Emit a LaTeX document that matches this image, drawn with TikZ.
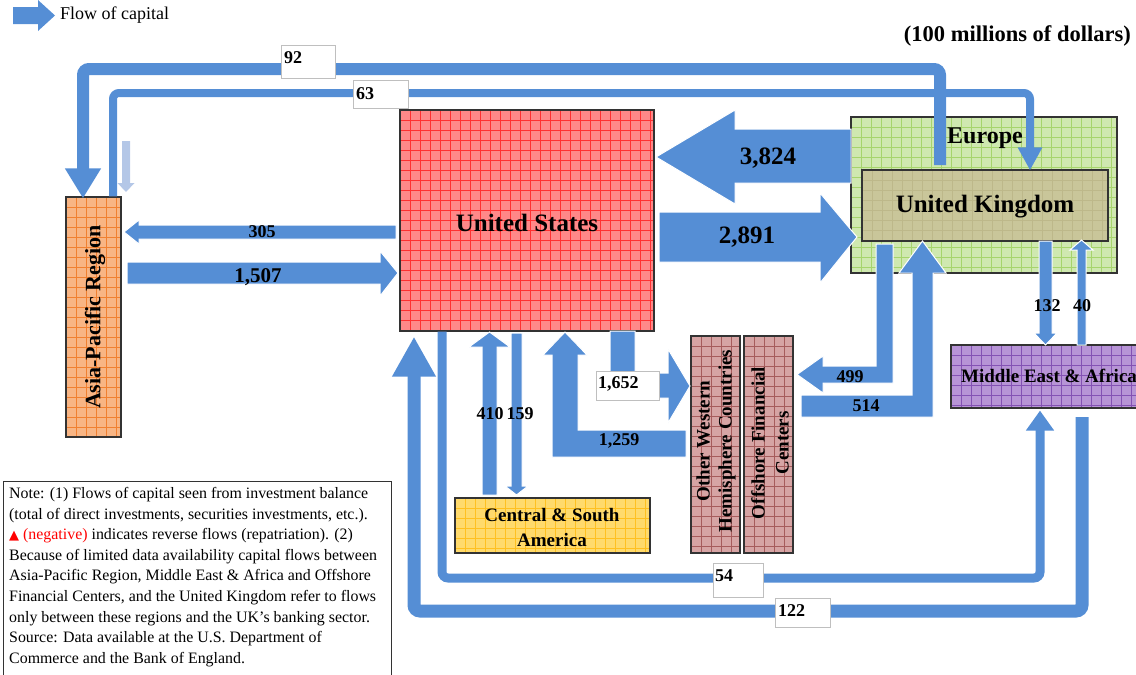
\documentclass[tikz,border=0pt]{standalone}
\usepackage{fontspec}
\setmainfont{Liberation Serif}
\newfontfamily\symfont{DejaVu Sans}
\usetikzlibrary{arrows.meta,calc}

\definecolor{flow}{HTML}{558ED5}
\definecolor{flowpale}{HTML}{B4C7E7}
\definecolor{usfill}{HTML}{FF8888}
\definecolor{usgrid}{HTML}{FF3030}
\definecolor{apfill}{HTML}{F8B584}
\definecolor{apgrid}{HTML}{F08030}
\definecolor{eufill}{HTML}{CFE8B0}
\definecolor{eugrid}{HTML}{A6D46C}
\definecolor{ukfill}{HTML}{C9C69A}
\definecolor{ukgrid}{HTML}{BDB88A}
\definecolor{mefill}{HTML}{B794D6}
\definecolor{megrid}{HTML}{8452B4}
\definecolor{owfill}{HTML}{D6A4A4}
\definecolor{owgrid}{HTML}{A65C5C}
\definecolor{csfill}{HTML}{FFDA6C}
\definecolor{csgrid}{HTML}{FFC020}

\newcommand\sz[1]{\fontsize{#1}{#1}\selectfont}

\begin{document}
\begin{tikzpicture}[x=1pt,y=-1pt,
  flowfill/.style={fill=flow, draw=white, line width=1pt, line join=miter},
  flowline/.style={draw=flow, rounded corners=6pt, line cap=butt},
  region/.style n args={2}{draw=black!80, line width=1.2pt, fill=#1, inner sep=0pt,
    path picture={
      \foreach \k in {10,20,...,300} {
        \draw[#2, line width=0.6pt] ($(path picture bounding box.north west)+(\k,0)$) -- ++(0,300);
        \draw[#2, line width=0.6pt] ($(path picture bounding box.north west)+(0,\k)$) -- ++(300,0);
      }}},
  valbox/.style={draw=black!25, fill=white, line width=1pt, inner sep=0pt},
  num/.style={font=\bfseries\sz{18}},
  bignum/.style={font=\bfseries\sz{25}},
]
\useasboundingbox (0,0) rectangle (1136,675);

% ---- regions ----
\node[region={usfill}{usgrid}, minimum width=254pt, minimum height=221pt] (us) at (527,220.5) {};
\node[region={apfill}{apgrid}, minimum width=55pt, minimum height=240pt] (ap) at (93.5,317) {};
\node[region={eufill}{eugrid}, minimum width=266pt, minimum height=156pt] (eu) at (984,195) {};
\node[region={ukfill}{ukgrid}, minimum width=246pt, minimum height=71pt] (uk) at (985,205.5) {};
\node[region={mefill}{megrid}, minimum width=195pt, minimum height=63pt] (me) at (1048.5,376.5) {};
\node[region={owfill}{owgrid}, minimum width=49pt, minimum height=217pt] (ow) at (715.5,444.5) {};
\node[region={owfill}{owgrid}, minimum width=49pt, minimum height=217pt] (of) at (768.5,444.5) {};
\node[region={csfill}{csgrid}, minimum width=195pt, minimum height=55pt] (cs) at (552.5,525.5) {};

\node[font=\bfseries\sz{25}] (ust) at (527,223) {United States};
\node[font=\bfseries\sz{22}, rotate=90] (apt) at (95,317) {Asia-Pacific Region};
\node[font=\bfseries\sz{24}] (eut) at (985,138) {Europe};
\node[font=\bfseries\sz{25}] (ukt) at (985,207) {United Kingdom};
\node[font=\bfseries\sz{19}, anchor=west, inner sep=0pt] (met) at (961,376) {Middle East \& Africa};
\node[font=\bfseries\fontsize{19}{22}\selectfont, rotate=90, align=center] (owt) at (716,441)
  {Other Western\\Hemisphere Countries};
\node[font=\bfseries\fontsize{19}{24}\selectfont, rotate=90, align=center] (oft) at (770,443)
  {Offshore Financial\\Centers};
\node[font=\bfseries\fontsize{19}{25}\selectfont, align=center] (cst) at (552,527)
  {Central \& South\\America};

% ---- legend and unit ----
\fill[flowfill, draw=none] (13,7) -- (38,7) -- (38,0) -- (55,15.5) -- (38,31) -- (38,24) -- (13,24) -- cycle;
\node[font=\sz{18}, anchor=west, inner sep=0pt] (legt) at (60,15) {Flow of capital};
\node[font=\bfseries\sz{22.5}, anchor=east, inner sep=0pt] (unit) at (1131,36) {(100 millions of dollars)};

% ---- block arrows ----
% UK -> US  (3,824)
\fill[flowfill] (851,129) -- (735,129) -- (735,110) -- (656,157) -- (735,204) -- (735,183) -- (851,183) -- cycle;
% US -> UK  (2,891)
\fill[flowfill] (659,212) -- (820,212) -- (820,193) -- (857,237) -- (820,283) -- (820,262) -- (659,262) -- cycle;
% US -> Asia-Pacific (305)
\fill[flowfill] (396,225) -- (139,225) -- (139,220) -- (124,232) -- (139,244) -- (139,239) -- (396,239) -- cycle;
% Asia-Pacific -> US (1,507)
\fill[flowfill] (127,262) -- (380,262) -- (380,251) -- (398,273) -- (380,296) -- (380,284) -- (127,284) -- cycle;
% Central & South America -> US (410)
\fill[flowfill] (482,495) -- (482,347) -- (469,347) -- (489.5,332) -- (510,347) -- (497,347) -- (497,495) -- cycle;
% US -> Central & South America (159)
\fill[flowfill] (511,333) -- (522,333) -- (522,486) -- (528,486) -- (516.5,495) -- (505,486) -- (511,486) -- cycle;
% Other Western -> US (1,259)
\fill[flowfill] (686,430) -- (578,430) -- (578,355) -- (587,355) -- (565,332) -- (543,355) -- (552,355) -- (552,457) -- (686,457) -- cycle;
% US -> Other Western (1,652)
\fill[flowfill] (610,331) -- (635,331) -- (635,373) -- (668,373) -- (668,349) -- (690,386) -- (668,423) -- (668,398) -- (610,398) -- cycle;
% UK -> Offshore (499)
\fill[flowfill] (876,244) -- (893,244) -- (893,383) -- (823,383) -- (823,393) -- (797,374.5) -- (823,356) -- (823,366) -- (876,366) -- cycle;
% Offshore -> UK (514)
\fill[flowfill] (801,395) -- (912,395) -- (912,273) -- (899,273) -- (922.5,241) -- (946,273) -- (933,273) -- (933,417) -- (801,417) -- cycle;
% UK -> Middle East & Africa (132)
\fill[flowfill] (1039,241) -- (1052,241) -- (1052,333) -- (1057,333) -- (1045.5,345) -- (1034,333) -- (1039,333) -- cycle;
% Middle East & Africa -> UK (40)
\fill[flowfill] (1077,345) -- (1077,250) -- (1070,250) -- (1081.5,240) -- (1093,250) -- (1086,250) -- (1086,345) -- cycle;
% faint arrow above Asia-Pacific
\fill[flowpale] (122,141) -- (130,141) -- (130,183) -- (134.5,183) -- (126,192) -- (117.5,183) -- (122,183) -- cycle;

% ---- thin connectors ----
\coordinate (s92) at (940,165);
\coordinate (s122) at (1082,417);
\draw[flowline, line width=12pt, -{Triangle[width=34pt,length=30pt]}]
  (s92) -- (940,69) -- (83,69) -- ($(ap.north -| 83,0)+(0,2)$);
\draw[flowline, line width=8pt, -{Triangle[width=23pt,length=23pt]}]
  (ap.north -| 113,0) -- (113,93) -- (1030,93) -- ($(uk.north -| 1030,0)+(0,1)$);
\draw[flowline, line width=9pt, -{Triangle[width=27pt,length=20pt]}]
  (us.south -| 442,0) -- (442,578) -- (1040,578) -- ($(me.south -| 1040,0)+(0,2)$);
\draw[flowline, line width=13pt, -{Triangle[width=41pt,length=40pt]}]
  (s122) -- (1082,611) -- (414,611) -- ($(us.south -| 414,0)+(0,5)$);

% ---- value boxes ----
\node[valbox, minimum width=54pt, minimum height=33pt] (b92) at (308,61.5) {};
\node[valbox, minimum width=55pt, minimum height=28pt] (b63) at (380.5,94) {};
\node[valbox, minimum width=50pt, minimum height=34pt] (b54) at (738,580) {};
\node[valbox, minimum width=55pt, minimum height=29pt] (b122) at (802.5,612.5) {};
\node[valbox, minimum width=63pt, minimum height=29pt] (b1652) at (627.5,385.5) {};

% ---- values ----
\node[num, anchor=west, inner sep=0pt] (t92) at (284,58) {92};
\node[num, anchor=west, inner sep=0pt] (t63) at (356,94) {63};
\node[num, anchor=west, inner sep=0pt] (t54) at (715,576) {54};
\node[num, anchor=west, inner sep=0pt] (t122) at (778,611) {122};
\node[num, anchor=west, inner sep=0pt] (t1652) at (598,384) {1,652};
\node[bignum] (t3824) at (768,158) {3,824};
\node[bignum] (t2891) at (747,237) {2,891};
\node[font=\bfseries\sz{18}] (t305) at (262,232) {305};
\node[font=\bfseries\sz{21}] (t1507) at (258,277) {1,507};
\node[num] (t410) at (490,414) {410};
\node[num] (t159) at (520,414) {159};
\node[num] (t1259) at (619,441) {1,259};
\node[num] (t499) at (850,377) {499};
\node[num] (t514) at (866,406) {514};
\node[num] (t132) at (1047,306) {132};
\node[num] (t40) at (1082,306) {40};

% ---- note ----
\node[draw=black!80, line width=1pt, minimum width=388pt, minimum height=210pt,
  anchor=north west, inner sep=0pt] (notebox) at (3,481) {};
\node[anchor=north west, inner sep=0pt, align=left,
  font=\fontsize{15.9}{20.6}\selectfont] (notet) at (9,487) {%
Note: (1) Flows of capital seen from investment balance\\
(total of direct investments, securities investments, etc.).\\
{\color{red}{\symfont\fontsize{13}{20.6}\selectfont ▲} (negative)} indicates reverse flows (repatriation). (2)\\
Because of limited data availability capital flows between\\
Asia-Pacific Region, Middle East \& Africa and Offshore\\
Financial Centers, and the United Kingdom refer to flows\\
only between these regions and the UK’s banking sector.\\
Source: Data available at the U.S. Department of\\
Commerce and the Bank of England.};
\end{tikzpicture}
\end{document}
